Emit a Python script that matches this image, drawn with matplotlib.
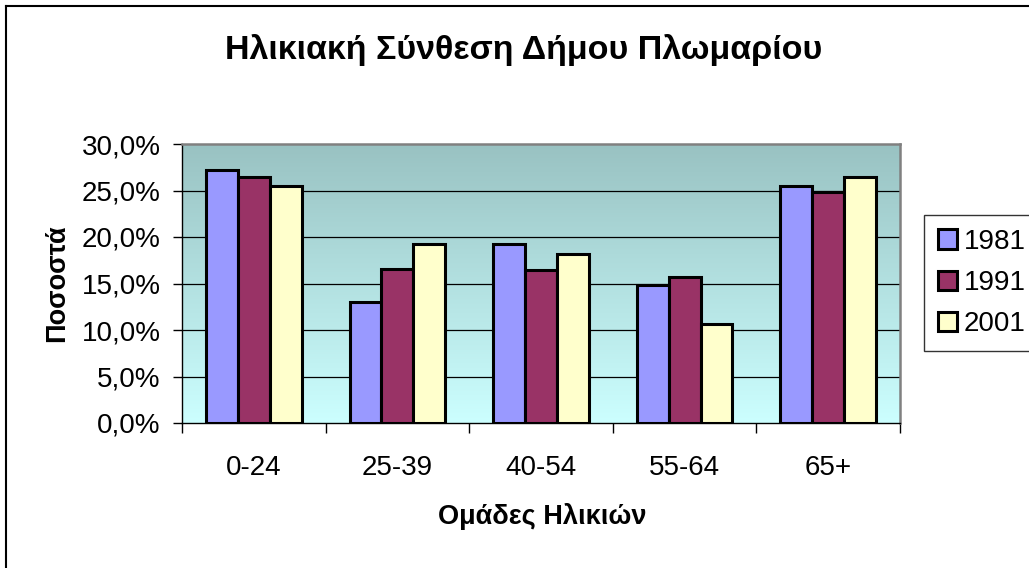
#!/usr/bin/env python3

from matplotlib import pyplot as plt
from matplotlib.lines import Line2D
from matplotlib.ticker import FuncFormatter
import numpy as np

# age groups and share of population per census year
age_groups = ['0-24', '25-39', '40-54', '55-64', '65+']
years = ['1981', '1991', '2001']
share_1981 = [0.272, 0.130, 0.192, 0.148, 0.255]
share_1991 = [0.265, 0.166, 0.164, 0.157, 0.248]
share_2001 = [0.255, 0.192, 0.182, 0.106, 0.265]
colors = ['#9999FF', '#993366', '#FFFFCC']


def pct_label(v, pos):
    return f'{v * 100:.1f}%'.replace('.', ',')


def main():
    plt.rcParams['font.family'] = ['Liberation Sans', 'DejaVu Sans']

    W, H = 1029, 568
    fig = plt.figure(figsize=(W / 100, H / 100), dpi=100)
    ax = fig.add_axes([182 / W, 1 - 423 / H, (900 - 182) / W, (423 - 144) / H])

    # gradient plot area
    grad = np.linspace(0, 1, 256).reshape(-1, 1)
    top = np.array([153, 194, 194]) / 255
    bottom = np.array([204, 255, 255]) / 255
    img = top + (bottom - top) * grad[:, :, None]
    ax.imshow(img, extent=[-0.5, 4.5, 0, 0.30], aspect='auto', zorder=0,
              origin='upper', interpolation='bilinear')

    x = np.arange(len(age_groups))
    w = 0.667 / 3
    series = [share_1981, share_1991, share_2001]
    for i, vals in enumerate(series):
        ax.bar(x + (i - 1) * w, vals, width=w, color=colors[i],
               edgecolor='black', linewidth=2.2, label=years[i], zorder=3)

    ax.set_xlim(-0.5, 4.5)
    ax.set_ylim(0, 0.30)
    ax.set_yticks(np.arange(0, 0.301, 0.05))
    ax.yaxis.set_major_formatter(FuncFormatter(pct_label))
    for yv in np.arange(0.05, 0.26, 0.05):
        ax.axhline(yv, color='black', linewidth=0.9, zorder=1)

    ax.set_xticks(x)
    ax.set_xticklabels(age_groups)
    ax.set_xticks(np.arange(-0.5, 4.6, 1), minor=True)
    ax.tick_params(axis='x', which='major', length=0, pad=23, labelsize=20)
    ax.tick_params(axis='x', which='minor', length=7, width=1, direction='out')
    ax.tick_params(axis='y', length=6.5, width=1, direction='out', pad=9,
                   labelsize=20)

    for side in ['top', 'right']:
        ax.spines[side].set_color('#808080')
        ax.spines[side].set_linewidth(1.8)
    for side in ['left', 'bottom']:
        ax.spines[side].set_color('black')
        ax.spines[side].set_linewidth(1.0)

    fig.text(524 / W, 1 - 50 / H, 'Ηλικιακή Σύνθεση Δήμου Πλωμαρίου',
             fontsize=24.5, fontweight='bold', ha='center', va='center')
    fig.text(542 / W, 1 - 516 / H, 'Ομάδες Ηλικιών',
             fontsize=19.5, fontweight='bold', ha='center', va='center')
    fig.text(57 / W, 1 - 283 / H, 'Ποσοστά', rotation=90,
             fontsize=19.5, fontweight='bold', ha='center', va='center')

    leg = fig.legend(loc='center left', bbox_to_anchor=(924 / W, 1 - 283 / H),
                     fontsize=20, frameon=True, fancybox=False, shadow=False,
                     handlelength=0.68, handleheight=0.68, handletextpad=0.25,
                     labelspacing=0.55, borderpad=0.5, borderaxespad=0)
    leg.get_frame().set_edgecolor('black')
    leg.get_frame().set_linewidth(1.0)

    # chart area border (top and left edges visible)
    fig.add_artist(Line2D([6 / W, 6 / W], [0, 1 - 6 / H], color='black', linewidth=1.5))
    fig.add_artist(Line2D([6 / W, 1], [1 - 6 / H, 1 - 6 / H], color='black', linewidth=1.5))

    plt.savefig('out.png', dpi=100)


if __name__ == '__main__':
    main()
